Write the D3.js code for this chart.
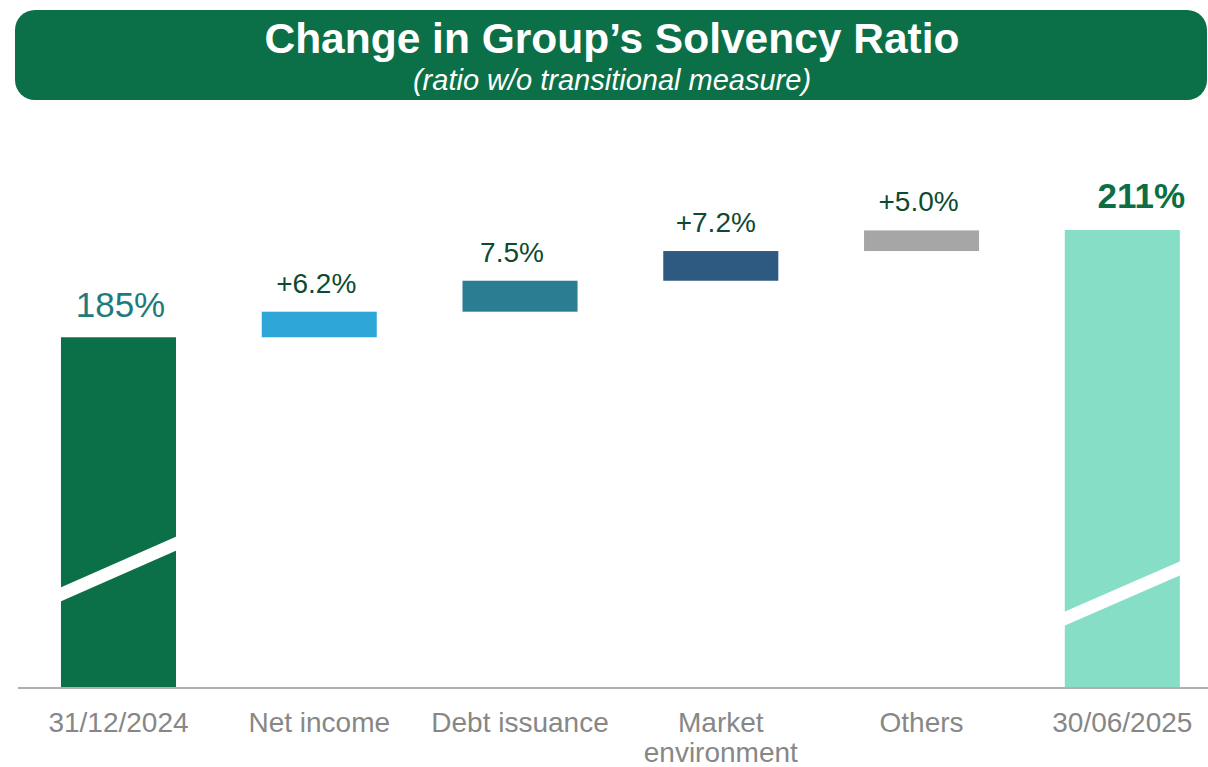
<!DOCTYPE html>
<html>
<head>
<meta charset="utf-8">
<script src="https://cdn.jsdelivr.net/npm/d3@7"></script>
<style>
  html, body { margin: 0; padding: 0; background: #ffffff; }
  svg { display: block; font-family: "Liberation Sans", Arial, sans-serif; }
</style>
</head>
<body>
<svg id="chart" width="1208" height="767"></svg>
<script>
// ---- data ----
const categories = ["31/12/2024", "Net income", "Debt issuance", "Market environment", "Others", "30/06/2025"];
const barTypes   = ["total", "delta", "delta", "delta", "delta", "total"];
const values     = [185, 6.2, 7.5, 7.2, 5.0, 211];
const valueLabels = ["185%", "+6.2%", "7.5%", "+7.2%", "+5.0%", "211%"];
const barColors  = ["#0b7047", "#2ea6d7", "#2b7e92", "#2e5a82", "#a6a6a6", "#87dec6"];
const axisBase   = 100;   // broken axis starts at 100%
const axisTop    = 211;
// axis-break slash on the total bars: [value at left edge, value at right edge]
const breaks     = [[122.6, 135.1], null, null, null, null, [116.7, 129.1]];

const title = "Change in Group\u2019s Solvency Ratio";
const subtitle = "(ratio w/o transitional measure)";

// ---- compute waterfall ----
let running = 0;
const bars = categories.map((c, i) => {
  let y0, y1;
  if (barTypes[i] === "total") { y0 = axisBase; y1 = values[i]; running = values[i]; }
  else { y0 = running; y1 = running + values[i]; running = y1; }
  return { cat: c, type: barTypes[i], y0, y1, label: valueLabels[i], color: barColors[i], brk: breaks[i], i };
});

const svg = d3.select("#chart");

// ---- title banner ----
svg.append("rect")
  .attr("x", 15).attr("y", 10).attr("width", 1192).attr("height", 90)
  .attr("rx", 20).attr("ry", 20)
  .attr("fill", "#0b7047");
svg.append("text")
  .attr("x", 612).attr("y", 53)
  .attr("text-anchor", "middle")
  .attr("fill", "#ffffff")
  .attr("font-size", 42.5).attr("font-weight", "bold")
  .text(title);
svg.append("text")
  .attr("x", 612).attr("y", 90)
  .attr("text-anchor", "middle")
  .attr("fill", "#ffffff")
  .attr("font-size", 29).attr("font-style", "italic")
  .text(subtitle);

// ---- scales ----
const x = d3.scaleBand()
  .domain(categories)
  .range([18, 1222.8])
  .paddingInner(0.427)
  .paddingOuter(0.214);

const y = d3.scaleLinear()
  .domain([axisBase, axisTop])
  .range([688, 230]);

// ---- bars ----
const g = svg.append("g");
g.selectAll("rect.bar")
  .data(bars)
  .join("rect")
  .attr("class", "bar")
  .attr("x", d => x(d.cat))
  .attr("width", x.bandwidth())
  .attr("y", d => y(Math.max(d.y0, d.y1)))
  .attr("height", d => Math.abs(y(d.y0) - y(d.y1)))
  .attr("fill", d => d.color);

// ---- axis break slashes ----
g.selectAll("path.brk")
  .data(bars.filter(d => d.brk))
  .join("path")
  .attr("class", "brk")
  .attr("fill", "#ffffff")
  .attr("d", d => {
    const x0 = x(d.cat) - 1, x1 = x(d.cat) + x.bandwidth() + 1;
    const yl = y(d.brk[0]), yr = y(d.brk[1]);
    const h = 7;
    return `M${x0},${yl - h}L${x1},${yr - h}L${x1},${yr + h}L${x0},${yl + h}Z`;
  });

// ---- baseline axis ----
const xAxis = d3.axisBottom(x).tickSize(0).tickPadding(0).tickFormat("");
const axisG = svg.append("g")
  .attr("transform", `translate(0,${y(axisBase)})`)
  .call(xAxis);
axisG.select(".domain")
  .attr("d", `M18,0H1208`)
  .attr("stroke", "#b0b0b0")
  .attr("stroke-width", 2);

// category labels
const catG = svg.append("g");
bars.forEach(d => {
  const words = d.cat === "Market environment" ? ["Market", "environment"] : [d.cat];
  const t = catG.append("text")
    .attr("x", x(d.cat) + x.bandwidth() / 2)
    .attr("y", 732)
    .attr("text-anchor", "middle")
    .attr("fill", "#878787")
    .attr("font-size", 28);
  words.forEach((w, k) => {
    t.append("tspan")
      .attr("x", x(d.cat) + x.bandwidth() / 2)
      .attr("dy", k === 0 ? 0 : 30)
      .text(w);
  });
});

// ---- value labels ----
svg.append("g").selectAll("text")
  .data(bars)
  .join("text")
  .attr("x", d => x(d.cat) + x.bandwidth() / 2 + (d.i === 5 ? 19 : d.i === 0 ? 2 : (d.i === 2 ? -8 : (d.i === 3 ? -5 : -3))))
  .attr("y", d => y(Math.max(d.y0, d.y1)) - (d.i === 5 ? 22 : d.i === 0 ? 20 : 19))
  .attr("text-anchor", "middle")
  .attr("font-size", d => d.type === "total" ? 35 : 28)
  .attr("font-weight", d => d.i === 5 ? "bold" : "normal")
  .attr("fill", d => d.i === 0 ? "#1f7b7b" : (d.i === 5 ? "#0b6e45" : "#0e4a32"))
  .text(d => d.label);
</script>
</body>
</html>
